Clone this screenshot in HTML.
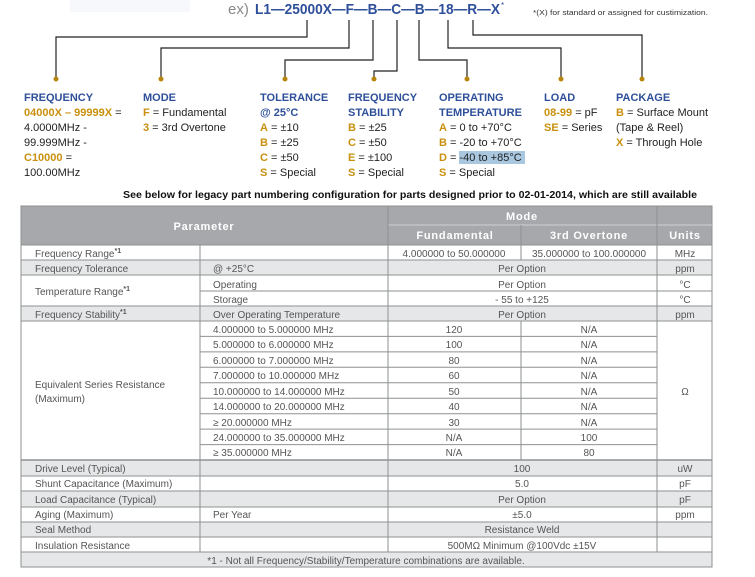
<!DOCTYPE html>
<html><head><meta charset="utf-8"><style>
html,body{margin:0;padding:0;background:#fff;width:755px;height:577px;overflow:hidden}
svg{display:block}
text{font-family:"Liberation Sans",sans-serif}
.b{fill:#2e4f9a;font-weight:bold;font-size:11px}
.g{fill:#c8900e;font-weight:bold}
.c{fill:#555;font-size:10px}
.h{fill:#fff;font-weight:bold;font-size:11px;letter-spacing:0.8px}
</style></head><body>
<svg width="755" height="577" viewBox="0 0 755 577" xmlns="http://www.w3.org/2000/svg">
<rect x="70" y="0" width="120" height="12" fill="#f6f8fb"/>
<text x="228" y="14" font-size="15" fill="#888">ex)</text>
<text x="255" y="14" font-size="15" font-weight="bold" fill="#2e4f9a" textLength="245" lengthAdjust="spacingAndGlyphs">L1—25000X—F—B—C—B—18—R—X</text>
<text x="501" y="8" font-size="8" fill="#2e4f9a">*</text>
<text x="533" y="15" font-size="7.5" fill="#333" textLength="175" lengthAdjust="spacingAndGlyphs">*(X) for standard or assigned for custimization.</text>
<g stroke="#222" stroke-width="1.2" fill="none">
<polyline points="307,20 307,37 56,37 56,79"/>
<polyline points="349,20 349,48 161,48 161,79"/>
<polyline points="373,20 373,60 285,60 285,79"/>
<polyline points="397,20 397,71 374,71 374,79"/>
<polyline points="419,20 419,60 467,60 467,79"/>
<polyline points="448,20 448,48 561,48 561,79"/>
<polyline points="473,20 473,35 642,35 642,79"/>
</g>
<g fill="#b8860b">
<circle cx="56" cy="79" r="2.5"/><circle cx="161" cy="79" r="2.5"/><circle cx="285" cy="79" r="2.5"/><circle cx="374" cy="79" r="2.5"/><circle cx="467" cy="79" r="2.5"/><circle cx="561" cy="79" r="2.5"/><circle cx="642" cy="79" r="2.5"/>
</g>
<g font-size="11" fill="#222">
<text class="b" x="24" y="101">FREQUENCY</text>
<text x="24" y="116"><tspan class="g">04000X – 99999X</tspan> =</text>
<text x="24" y="131">4.0000MHz -</text>
<text x="24" y="146">99.999MHz -</text>
<text x="24" y="161"><tspan class="g">C10000</tspan> =</text>
<text x="24" y="176">100.00MHz</text>
<text class="b" x="143" y="101">MODE</text>
<text x="143" y="116"><tspan class="g">F</tspan> = Fundamental</text>
<text x="143" y="131"><tspan class="g">3</tspan> = 3rd Overtone</text>
<text class="b" x="260" y="101">TOLERANCE</text>
<text class="b" x="260" y="116">@ 25°C</text>
<text x="260" y="131"><tspan class="g">A</tspan> = ±10</text>
<text x="260" y="146"><tspan class="g">B</tspan> = ±25</text>
<text x="260" y="161"><tspan class="g">C</tspan> = ±50</text>
<text x="260" y="176"><tspan class="g">S</tspan> = Special</text>
<text class="b" x="348" y="101">FREQUENCY</text>
<text class="b" x="348" y="116">STABILITY</text>
<text x="348" y="131"><tspan class="g">B</tspan> = ±25</text>
<text x="348" y="146"><tspan class="g">C</tspan> = ±50</text>
<text x="348" y="161"><tspan class="g">E</tspan> = ±100</text>
<text x="348" y="176"><tspan class="g">S</tspan> = Special</text>
<text class="b" x="439" y="101">OPERATING</text>
<text class="b" x="439" y="116">TEMPERATURE</text>
<text x="439" y="131"><tspan class="g">A</tspan> = 0 to +70°C</text>
<text x="439" y="146"><tspan class="g">B</tspan> = -20 to +70°C</text>
<rect x="459" y="151" width="66" height="13" fill="#a9c8e0"/>
<text x="439" y="161"><tspan class="g">D</tspan> = -40 to +85°C</text>
<text x="439" y="176"><tspan class="g">S</tspan> = Special</text>
<text class="b" x="544" y="101">LOAD</text>
<text x="544" y="116"><tspan class="g">08-99</tspan> = pF</text>
<text x="544" y="131"><tspan class="g">SE</tspan> = Series</text>
<text class="b" x="616" y="101">PACKAGE</text>
<text x="616" y="116"><tspan class="g">B</tspan> = Surface Mount</text>
<text x="616" y="131">(Tape &amp; Reel)</text>
<text x="616" y="146"><tspan class="g">X</tspan> = Through Hole</text>
</g>
<text x="123" y="198" font-size="10.5" font-weight="bold" fill="#111" textLength="574" lengthAdjust="spacingAndGlyphs">See below for legacy part numbering configuration for parts designed prior to 02-01-2014, which are still available</text>

<rect x="21" y="206" width="691" height="39" fill="#a6a8ab"/>
<g fill="#e6e7e8">
<rect x="21" y="260" width="691" height="15"/>
<rect x="21" y="306" width="691" height="15"/>
<rect x="21" y="460" width="691" height="16"/>
<rect x="21" y="491" width="691" height="16"/>
<rect x="21" y="522" width="691" height="15"/>
<rect x="21" y="552" width="691" height="15"/>
</g>
<g stroke="#8e9092" stroke-width="1" fill="none">
<rect x="21" y="206" width="691" height="361"/>
<line x1="388" y1="225" x2="712" y2="225" stroke="#d0d0d0"/>
<line x1="388" y1="206" x2="388" y2="552"/>
<line x1="657" y1="206" x2="657" y2="552"/>
<line x1="521" y1="225" x2="521" y2="260"/>
<line x1="521" y1="321" x2="521" y2="460"/>
<line x1="200" y1="245" x2="200" y2="552"/>
<line x1="21" y1="245" x2="712" y2="245"/>
<line x1="21" y1="260" x2="712" y2="260"/>
<line x1="21" y1="275" x2="712" y2="275"/>
<line x1="200" y1="291" x2="712" y2="291"/>
<line x1="21" y1="306" x2="712" y2="306"/>
<line x1="21" y1="321" x2="712" y2="321"/>
<line x1="200" y1="336.4" x2="657" y2="336.4"/>
<line x1="200" y1="351.9" x2="657" y2="351.9"/>
<line x1="200" y1="367.3" x2="657" y2="367.3"/>
<line x1="200" y1="382.8" x2="657" y2="382.8"/>
<line x1="200" y1="398.2" x2="657" y2="398.2"/>
<line x1="200" y1="413.7" x2="657" y2="413.7"/>
<line x1="200" y1="429.1" x2="657" y2="429.1"/>
<line x1="200" y1="444.6" x2="657" y2="444.6"/>
<line x1="21" y1="460" x2="712" y2="460" stroke-width="1.5"/>
<line x1="21" y1="476" x2="712" y2="476"/>
<line x1="21" y1="491" x2="712" y2="491"/>
<line x1="21" y1="507" x2="712" y2="507"/>
<line x1="21" y1="522" x2="712" y2="522"/>
<line x1="21" y1="537" x2="712" y2="537"/>
<line x1="21" y1="552" x2="712" y2="552"/>
</g>
<text class="h" x="204" y="230" text-anchor="middle">Parameter</text>
<text class="h" x="522" y="220" text-anchor="middle">Mode</text>
<text class="h" x="455" y="239" text-anchor="middle">Fundamental</text>
<text class="h" x="589" y="239" text-anchor="middle">3rd Overtone</text>
<text class="h" x="685" y="239" text-anchor="middle">Units</text>
<g class="c">
<text x="35" y="257">Frequency Range<tspan font-size="7" font-weight="bold" dy="-4">*1</tspan></text>
<text x="35" y="272">Frequency Tolerance</text>
<text x="35" y="295">Temperature Range<tspan font-size="7" font-weight="bold" dy="-4">*1</tspan></text>
<text x="35" y="318">Frequency Stability<tspan font-size="7" font-weight="bold" dy="-4">*1</tspan></text>
<text x="35" y="388">Equivalent Series Resistance</text>
<text x="35" y="402">(Maximum)</text>
<text x="35" y="472">Drive Level (Typical)</text>
<text x="35" y="487">Shunt Capacitance (Maximum)</text>
<text x="35" y="503">Load Capacitance (Typical)</text>
<text x="35" y="518">Aging (Maximum)</text>
<text x="35" y="533">Seal Method</text>
<text x="35" y="549">Insulation Resistance</text>
<text x="213" y="272">@ +25°C</text>
<text x="213" y="288">Operating</text>
<text x="213" y="303">Storage</text>
<text x="213" y="318">Over Operating Temperature</text>
<text x="213" y="333">4.000000 to 5.000000 MHz</text>
<text x="213" y="348">5.000000 to 6.000000 MHz</text>
<text x="213" y="364">6.000000 to 7.000000 MHz</text>
<text x="213" y="379">7.000000 to 10.000000 MHz</text>
<text x="213" y="395">10.000000 to 14.000000 MHz</text>
<text x="213" y="410">14.000000 to 20.000000 MHz</text>
<text x="213" y="426">≥ 20.000000 MHz</text>
<text x="213" y="441">24.000000 to 35.000000 MHz</text>
<text x="213" y="456">≥ 35.000000 MHz</text>
<text x="213" y="518">Per Year</text>
</g>
<g class="c" text-anchor="middle">
<text x="454" y="257">4.000000 to 50.000000</text>
<text x="589" y="257">35.000000 to 100.000000</text>
<text x="522" y="272">Per Option</text>
<text x="522" y="288">Per Option</text>
<text x="522" y="303">- 55 to +125</text>
<text x="522" y="318">Per Option</text>
<text x="454" y="333">120</text><text x="589" y="333">N/A</text>
<text x="454" y="348">100</text><text x="589" y="348">N/A</text>
<text x="454" y="364">80</text><text x="589" y="364">N/A</text>
<text x="454" y="379">60</text><text x="589" y="379">N/A</text>
<text x="454" y="395">50</text><text x="589" y="395">N/A</text>
<text x="454" y="410">40</text><text x="589" y="410">N/A</text>
<text x="454" y="426">30</text><text x="589" y="426">N/A</text>
<text x="454" y="441">N/A</text><text x="589" y="441">100</text>
<text x="454" y="456">N/A</text><text x="589" y="456">80</text>
<text x="522" y="472">100</text>
<text x="522" y="487">5.0</text>
<text x="522" y="503">Per Option</text>
<text x="522" y="518">±5.0</text>
<text x="522" y="533">Resistance Weld</text>
<text x="522" y="549">500MΩ Minimum @100Vdc ±15V</text>
<text x="366" y="564">*1 - Not all Frequency/Stability/Temperature combinations are available.</text>
<text x="685" y="257">MHz</text>
<text x="685" y="272">ppm</text>
<text x="685" y="288">°C</text>
<text x="685" y="303">°C</text>
<text x="685" y="318">ppm</text>
<text x="685" y="395">Ω</text>
<text x="685" y="472">uW</text>
<text x="685" y="487">pF</text>
<text x="685" y="503">pF</text>
<text x="685" y="518">ppm</text>
</g>
</svg>
</body></html>
